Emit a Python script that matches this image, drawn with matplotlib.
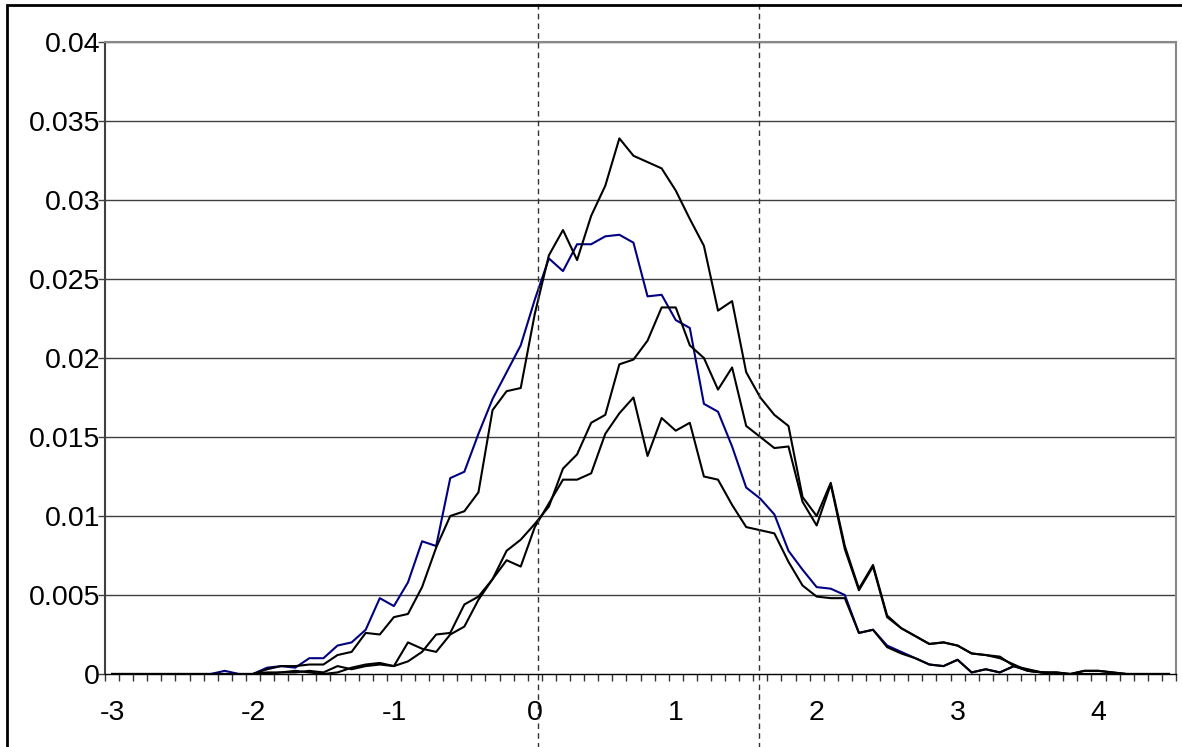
import matplotlib
matplotlib.use("Agg")
import matplotlib.pyplot as plt
from matplotlib.patches import Rectangle

plt.rcParams['font.family'] = ['Liberation Sans', 'DejaVu Sans']

# category values (x axis, step 0.1)
x_cat = [-3.0, -2.9, -2.8, -2.7, -2.6, -2.5, -2.4, -2.3, -2.2, -2.1,
         -2.0, -1.9, -1.8, -1.7, -1.6, -1.5, -1.4, -1.3, -1.2, -1.1,
         -1.0, -0.9, -0.8, -0.7, -0.6, -0.5, -0.4, -0.3, -0.2, -0.1,
         0.0, 0.1, 0.2, 0.3, 0.4, 0.5, 0.6, 0.7, 0.8, 0.9,
         1.0, 1.1, 1.2, 1.3, 1.4, 1.5, 1.6, 1.7, 1.8, 1.9,
         2.0, 2.1, 2.2, 2.3, 2.4, 2.5, 2.6, 2.7, 2.8, 2.9,
         3.0, 3.1, 3.2, 3.3, 3.4, 3.5, 3.6, 3.7, 3.8, 3.9,
         4.0, 4.1, 4.2, 4.3, 4.4, 4.5]

series_blue = [0, 0, 0, 0, 0, 0, 0, 0, 0.0002, 0,
               0, 0.0004, 0.0005, 0.0004, 0.0010, 0.0010, 0.0018, 0.0020, 0.0028, 0.0048,
               0.0043, 0.0058, 0.0084, 0.0081, 0.0124, 0.0128, 0.0152, 0.0174, 0.0191, 0.0208,
               0.0237, 0.0263, 0.0255, 0.0272, 0.0272, 0.0277, 0.0278, 0.0273, 0.0239, 0.0240,
               0.0224, 0.0219, 0.0171, 0.0166, 0.0144, 0.0118, 0.0111, 0.0101, 0.0078, 0.0066,
               0.0055, 0.0054, 0.0050, 0.0026, 0.0028, 0.0018, 0.0014, 0.0010, 0.0006, 0.0005,
               0.0009, 0.0001, 0.0003, 0.0001, 0.0005, 0.0002, 0.0001, 0, 0, 0,
               0, 0, 0, 0, 0, 0]

series_b = [0, 0, 0, 0, 0, 0, 0, 0, 0, 0,
            0, 0.0003, 0.0005, 0.0005, 0.0006, 0.0006, 0.0012, 0.0014, 0.0026, 0.0025,
            0.0036, 0.0038, 0.0055, 0.0080, 0.0100, 0.0103, 0.0115, 0.0167, 0.0179, 0.0181,
            0.0228, 0.0265, 0.0281, 0.0262, 0.0290, 0.0309, 0.0339, 0.0328, 0.0324, 0.0320,
            0.0306, 0.0288, 0.0271, 0.0230, 0.0236, 0.0191, 0.0175, 0.0164, 0.0157, 0.0112,
            0.0100, 0.0121, 0.0081, 0.0054, 0.0069, 0.0037, 0.0029, 0.0024, 0.0019, 0.0020,
            0.0018, 0.0013, 0.0012, 0.0011, 0.0005, 0.0003, 0.0001, 0.0001, 0, 0.0002,
            0.0002, 0.0001, 0, 0, 0, 0]

series_c = [0, 0, 0, 0, 0, 0, 0, 0, 0, 0,
            0, 0.0001, 0.0001, 0.0002, 0.0001, 0, 0.0001, 0.0004, 0.0006, 0.0007,
            0.0005, 0.0008, 0.0014, 0.0025, 0.0026, 0.0044, 0.0049, 0.0060, 0.0078, 0.0085,
            0.0095, 0.0106, 0.0130, 0.0139, 0.0159, 0.0164, 0.0196, 0.0199, 0.0211, 0.0232,
            0.0232, 0.0208, 0.0200, 0.0180, 0.0194, 0.0157, 0.0150, 0.0143, 0.0144, 0.0109,
            0.0094, 0.0120, 0.0079, 0.0053, 0.0068, 0.0036, 0.0029, 0.0024, 0.0019, 0.0020,
            0.0018, 0.0013, 0.0012, 0.0010, 0.0006, 0.0002, 0.0001, 0.0001, 0, 0.0002,
            0.0002, 0.0001, 0, 0, 0, 0]

series_d = [0, 0, 0, 0, 0, 0, 0, 0, 0, 0,
            0, 0, 0.0001, 0.0001, 0.0002, 0.0001, 0.0005, 0.0003, 0.0005, 0.0006,
            0.0005, 0.0020, 0.0016, 0.0014, 0.0025, 0.0030, 0.0047, 0.0060, 0.0072, 0.0068,
            0.0093, 0.0108, 0.0123, 0.0123, 0.0127, 0.0152, 0.0165, 0.0175, 0.0138, 0.0162,
            0.0154, 0.0159, 0.0125, 0.0123, 0.0107, 0.0093, 0.0091, 0.0089, 0.0071, 0.0056,
            0.0049, 0.0048, 0.0048, 0.0026, 0.0028, 0.0017, 0.0013, 0.0010, 0.0006, 0.0005,
            0.0009, 0.0001, 0.0003, 0.0001, 0.0005, 0.0002, 0.0001, 0, 0, 0,
            0, 0, 0, 0, 0, 0]

x_tick_values = [-3, -2, -1, 0, 1, 2, 3, 4]
x_tick_labels = ['-3', '-2', '-1', '0', '1', '2', '3', '4']
y_tick_values = [0, 0.005, 0.01, 0.015, 0.02, 0.025, 0.03, 0.035, 0.04]
y_tick_labels = ['0', '0.005', '0.01', '0.015', '0.02', '0.025', '0.03', '0.035', '0.04']
marker_lines = [0.02, 1.59]

W, H = 1182, 747
fig = plt.figure(figsize=(W / 100, H / 100), dpi=100)
ax = fig.add_axes([105 / W, (H - 674) / H, 1071 / W, 632 / H])

# outer border of chart area (extends past right/bottom edges)
fig.patches.append(Rectangle((7 / W, -0.05), 1.2, (H - 5) / H + 0.05,
                             transform=fig.transFigure, fill=False,
                             edgecolor='black', linewidth=2, clip_on=False))

ax.plot(x_cat, series_blue, color='#000080', lw=1.5, zorder=3)
ax.plot(x_cat, series_d, color='black', lw=1.5, zorder=4)
ax.plot(x_cat, series_c, color='black', lw=1.5, zorder=4)
ax.plot(x_cat, series_b, color='black', lw=1.5, zorder=4)

ax.set_xlim(-3.05, 4.55)
ax.set_ylim(0, 0.04)

for yv in y_tick_values[1:]:
    ax.axhline(yv, color='#404040', lw=1, zorder=1)

for xv in marker_lines:
    ax.axvline(xv, ymin=-0.12, ymax=1.07, color='#333333', lw=1,
               linestyle=(0, (4, 3)), clip_on=False, zorder=5)

# spines
ax.spines['top'].set_color('#888888')
ax.spines['right'].set_color('#888888')
ax.spines['top'].set_linewidth(1.5)
ax.spines['right'].set_linewidth(1.5)
ax.spines['left'].set_color('#404040')
ax.spines['left'].set_linewidth(1.5)
ax.spines['bottom'].set_color('black')
ax.spines['bottom'].set_linewidth(1)

# y ticks
ax.set_yticks(y_tick_values)
ax.set_yticklabels(y_tick_labels)
ax.tick_params(axis='y', direction='out', length=5, width=1, color='#404040',
               pad=-1.5, labelsize=20.5)

# x ticks: labels at category centers, tick marks at boundaries
ax.set_xticks(x_tick_values)
ax.set_xticklabels(x_tick_labels)
ax.set_xticks([-3.05 + 0.1 * i for i in range(77)], minor=True)
ax.tick_params(axis='x', which='major', length=0, pad=19, labelsize=20.5)
ax.tick_params(axis='x', which='minor', direction='out', length=5, width=1,
               color='#333333')

fig.savefig('out.png', dpi=100)
